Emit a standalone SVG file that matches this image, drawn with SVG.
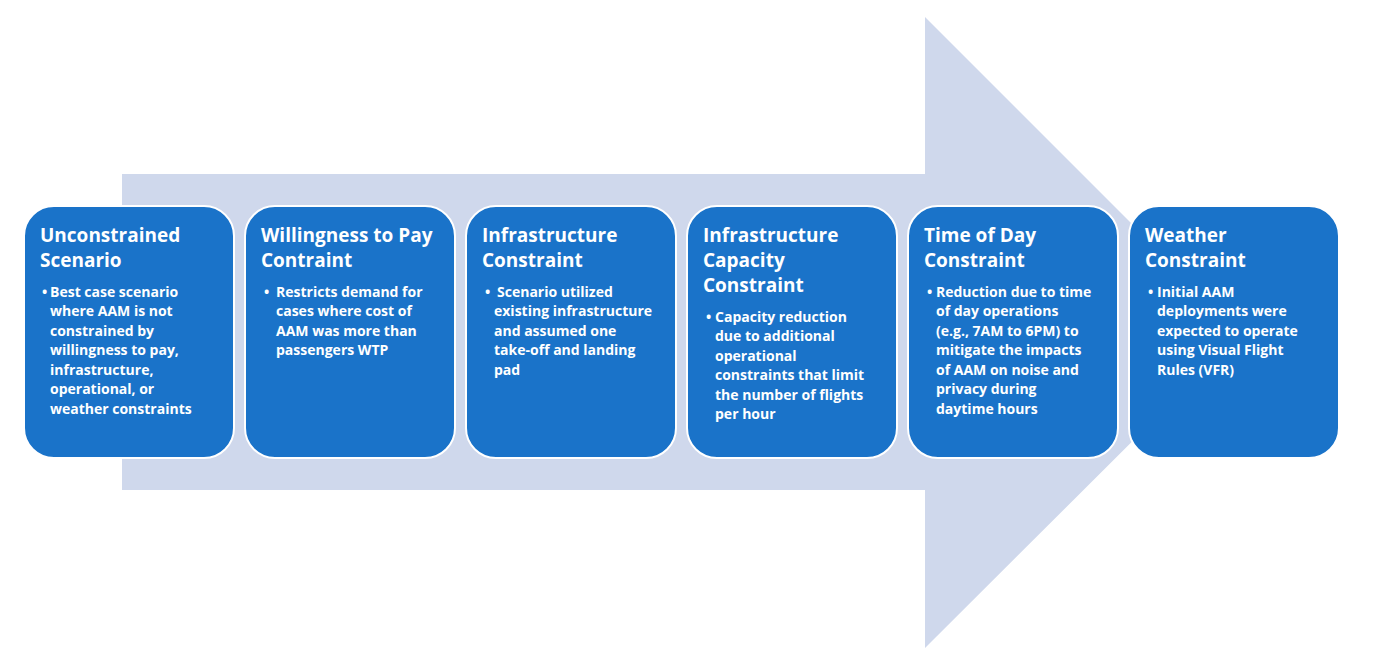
<svg xmlns="http://www.w3.org/2000/svg" width="1400" height="661" viewBox="0 0 1400 661">
<style>
.b{fill:#1a73c9;stroke:#fff;stroke-width:2}
.t{font-family:"Open Sans","Liberation Sans",sans-serif;font-weight:bold;font-size:19px;fill:#fff}
.d{font-family:"Open Sans","Liberation Sans",sans-serif;font-weight:bold;font-size:14px;fill:#fff}
</style>
<rect width="1400" height="661" fill="#fff"/>
<g id="connectors"><polygon points="122,174 925,174 925,17 1241,333 925,648 925,490 122,490" fill="#cfd8ec"/></g>
<g id="n1"><rect class="b" x="24" y="206" width="210" height="252" rx="30"/>
<text class="t" x="40" y="242">Unconstrained</text><text class="t" x="40" y="267">Scenario</text>
<text class="d"><tspan x="42" y="297">•</tspan><tspan x="50" y="297">Best case scenario</tspan><tspan x="50" y="316">where AAM is not</tspan><tspan x="50" y="336">constrained by</tspan><tspan x="50" y="355">willingness to pay,</tspan><tspan x="50" y="375">infrastructure,</tspan><tspan x="50" y="394">operational, or</tspan><tspan x="50" y="414">weather constraints</tspan></text></g>
<g id="n2"><rect class="b" x="245" y="206" width="210" height="252" rx="30"/>
<text class="t" x="261" y="242">Willingness to Pay</text><text class="t" x="261" y="267">Contraint</text>
<text class="d"><tspan x="264" y="297">•</tspan><tspan x="276" y="297">Restricts demand for</tspan><tspan x="276" y="316">cases where cost of</tspan><tspan x="276" y="336">AAM was more than</tspan><tspan x="276" y="355">passengers WTP</tspan></text></g>
<g id="n3"><rect class="b" x="466" y="206" width="210" height="252" rx="30"/>
<text class="t" x="482" y="242">Infrastructure</text><text class="t" x="482" y="267">Constraint</text>
<text class="d"><tspan x="485" y="297">•</tspan><tspan x="497" y="297">Scenario utilized</tspan><tspan x="494" y="316">existing infrastructure</tspan><tspan x="494" y="336">and assumed one</tspan><tspan x="494" y="355">take-off and landing</tspan><tspan x="494" y="375">pad</tspan></text></g>
<g id="n4"><rect class="b" x="687" y="206" width="210" height="252" rx="30"/>
<text class="t" x="703" y="242">Infrastructure</text><text class="t" x="703" y="267">Capacity</text><text class="t" x="703" y="292">Constraint</text>
<text class="d"><tspan x="706" y="322">•</tspan><tspan x="715" y="322">Capacity reduction</tspan><tspan x="715" y="341">due to additional</tspan><tspan x="715" y="361">operational</tspan><tspan x="715" y="380">constraints that limit</tspan><tspan x="715" y="400">the number of flights</tspan><tspan x="715" y="419">per hour</tspan></text></g>
<g id="n5"><rect class="b" x="908" y="206" width="210" height="252" rx="30"/>
<text class="t" x="924" y="242">Time of Day</text><text class="t" x="924" y="267">Constraint</text>
<text class="d"><tspan x="927" y="297">•</tspan><tspan x="936" y="297">Reduction due to time</tspan><tspan x="936" y="316">of day operations</tspan><tspan x="936" y="336">(e.g., 7AM to 6PM) to</tspan><tspan x="936" y="355">mitigate the impacts</tspan><tspan x="936" y="375">of AAM on noise and</tspan><tspan x="936" y="394">privacy during</tspan><tspan x="936" y="414">daytime hours</tspan></text></g>
<g id="n6"><rect class="b" x="1129" y="206" width="210" height="252" rx="30"/>
<text class="t" x="1145" y="242">Weather</text><text class="t" x="1145" y="267">Constraint</text>
<text class="d"><tspan x="1148" y="297">•</tspan><tspan x="1157" y="297">Initial AAM</tspan><tspan x="1157" y="316">deployments were</tspan><tspan x="1157" y="336">expected to operate</tspan><tspan x="1157" y="355">using Visual Flight</tspan><tspan x="1157" y="375">Rules (VFR)</tspan></text></g>
</svg>
